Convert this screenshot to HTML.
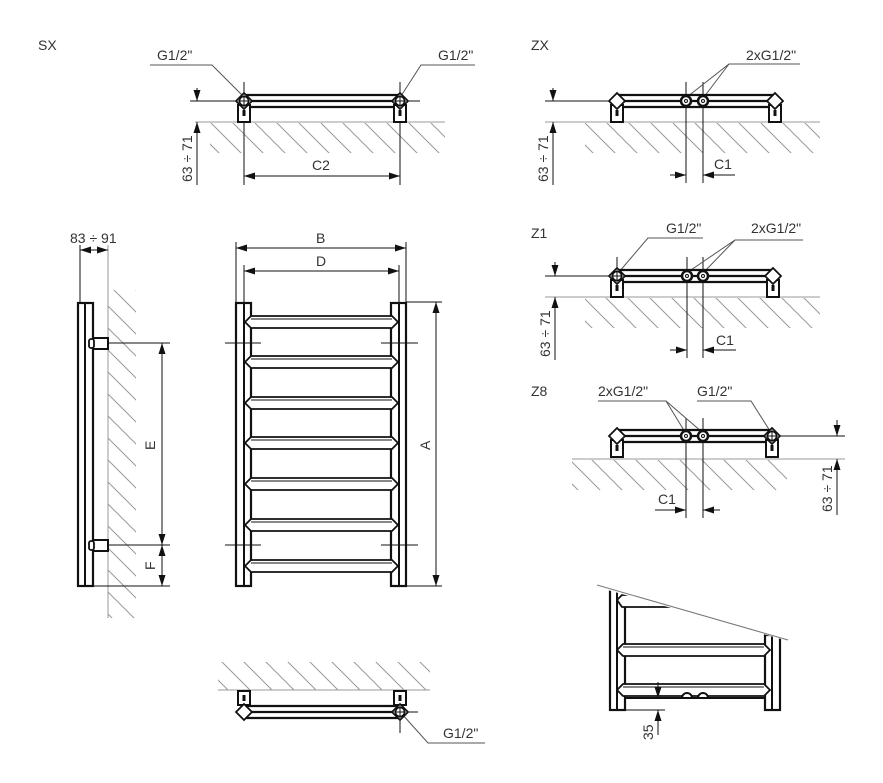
<!DOCTYPE html>
<html><head><meta charset="utf-8"><style>
html,body{margin:0;padding:0;background:#fff}
svg{display:block}
text{font-family:"Liberation Sans","DejaVu Sans",sans-serif;font-size:14px;fill:#333}
</style></head><body>
<svg width="883" height="783" viewBox="0 0 883 783" xmlns="http://www.w3.org/2000/svg">
<defs>
<pattern id="h" patternUnits="userSpaceOnUse" width="22" height="22">
<path d="M-2,-2 L24,24 M-13,9 L2,24 M9,-13 L24,2" stroke="#999" stroke-width="1"/>
</pattern>
<path id="ad" d="M0,0 L-3.5,-11 L3.5,-11 Z" fill="#111"/>
<path id="au" d="M0,0 L-3.5,11 L3.5,11 Z" fill="#111"/>
<path id="al" d="M0,0 L11,-3.5 L11,3.5 Z" fill="#111"/>
<path id="ar" d="M0,0 L-11,-3.5 L-11,3.5 Z" fill="#111"/>
<g id="bar">
<path d="M0,-6 H157 M0,0 H157 M0,6 H157" stroke="#111" stroke-width="2.2" fill="none"/>
</g>
<g id="brk">
<rect x="-6" y="4" width="12" height="17" fill="#fff" stroke="#111" stroke-width="2"/>
<rect x="-1.5" y="9" width="3" height="6" fill="#111"/>
</g>
<g id="fit">
<path d="M-8,0 L0,-8 L8,0 L0,8 Z" fill="#fff" stroke="#111" stroke-width="1.8"/>
<circle r="4.5" fill="none" stroke="#111" stroke-width="1.5"/>
<path d="M-6,0 H6 M0,-6 V6" stroke="#111" stroke-width="1"/>
</g>
<g id="dia">
<path d="M-8,0 L0,-8 L8,0 L0,8 Z" fill="#fff" stroke="#111" stroke-width="1.8"/>
</g>
<g id="cir">
<circle r="5" fill="#fff" stroke="#111" stroke-width="2.5"/>
<circle r="1.5" fill="none" stroke="#111" stroke-width="1"/>
</g>
<g id="rung">
<path d="M0,6 L6,0 H147 L153,6 L147,12 H6 Z" fill="#fff" stroke="#111" stroke-width="1.8"/>
<path d="M6,3 H147" stroke="#111" stroke-width="1"/>
</g>
</defs>

<g stroke="#111" stroke-width="1" fill="none">
<!-- ===== SX ===== -->
<rect x="210" y="123" width="235" height="30" fill="url(#h)" stroke="none"/>
<line x1="195" y1="122" x2="445" y2="122" stroke="#999"/>
<line x1="190" y1="101" x2="420" y2="101"/>
<line x1="244" y1="82" x2="244" y2="185"/>
<line x1="400" y1="82" x2="400" y2="185"/>
<line x1="197" y1="88" x2="197" y2="101"/>
<line x1="197" y1="185" x2="197" y2="122"/>
<line x1="244" y1="176" x2="400" y2="176"/>
<path d="M150,65 H212 L243,96" stroke="#555"/>
<path d="M475,65 H421 L401,96" stroke="#555"/>
</g>
<use href="#ad" x="197" y="101"/><use href="#au" x="197" y="122"/>
<use href="#al" x="244" y="176"/><use href="#ar" x="400" y="176"/>
<use href="#bar" x="244" y="101"/>
<use href="#brk" x="244" y="101"/><use href="#brk" x="400" y="101"/>
<use href="#fit" x="244" y="101"/><use href="#fit" x="400" y="101"/>
<text x="38" y="50" font-size="15">SX</text>
<text x="157" y="60">G1/2"</text>
<text x="438" y="60">G1/2"</text>
<text x="312" y="170">C2</text>
<text transform="translate(192,182) rotate(-90)">63 ÷ 71</text>

<!-- ===== ZX ===== -->
<g stroke="#111" stroke-width="1" fill="none">
<rect x="585" y="123" width="235" height="30" fill="url(#h)" stroke="none"/>
<line x1="545" y1="122" x2="820" y2="122" stroke="#999"/>
<line x1="545" y1="101" x2="617" y2="101"/>
<line x1="686" y1="82" x2="686" y2="183"/>
<line x1="703" y1="82" x2="703" y2="183"/>
<line x1="553" y1="88" x2="553" y2="101"/>
<line x1="553" y1="185" x2="553" y2="122"/>
<line x1="670" y1="175" x2="686" y2="175"/>
<line x1="735" y1="175" x2="703" y2="175"/>
<path d="M800,64 H729 L687,97 M729,64 L704,97" stroke="#555"/>
</g>
<use href="#ad" x="553" y="101"/><use href="#au" x="553" y="122"/>
<use href="#ar" x="686" y="175"/><use href="#al" x="703" y="175"/>
<use href="#bar" x="617" y="101"/>
<use href="#brk" x="617" y="101"/><use href="#brk" x="775" y="101"/>
<use href="#dia" x="617" y="101"/><use href="#dia" x="775" y="101"/>
<use href="#cir" x="686" y="101"/><use href="#cir" x="703" y="101"/>
<text x="531" y="50" font-size="15">ZX</text>
<text x="746" y="60">2xG1/2"</text>
<text x="714" y="169">C1</text>
<text transform="translate(548,182) rotate(-90)">63 ÷ 71</text>

<!-- ===== Z1 ===== -->
<g stroke="#111" stroke-width="1" fill="none">
<rect x="585" y="298" width="235" height="30" fill="url(#h)" stroke="none"/>
<line x1="545" y1="297" x2="820" y2="297" stroke="#999"/>
<line x1="545" y1="276" x2="617" y2="276"/>
<line x1="617" y1="257" x2="617" y2="270"/>
<line x1="687" y1="257" x2="687" y2="358"/>
<line x1="703" y1="257" x2="703" y2="358"/>
<line x1="555" y1="262" x2="555" y2="276"/>
<line x1="555" y1="360" x2="555" y2="297"/>
<line x1="670" y1="350" x2="687" y2="350"/>
<line x1="736" y1="350" x2="703" y2="350"/>
<path d="M703,238 H648 L619,272" stroke="#555"/>
<path d="M803,240 H735 L688,272 M735,240 L704,272" stroke="#555"/>
</g>
<use href="#ad" x="555" y="276"/><use href="#au" x="555" y="297"/>
<use href="#ar" x="687" y="350"/><use href="#al" x="703" y="350"/>
<use href="#bar" x="617" y="276"/>
<use href="#brk" x="617" y="276"/><use href="#brk" x="773" y="276"/>
<use href="#fit" x="617" y="276"/><use href="#dia" x="773" y="276"/>
<use href="#cir" x="687" y="276"/><use href="#cir" x="703" y="276"/>
<text x="531" y="238" font-size="15">Z1</text>
<text x="666" y="233">G1/2"</text>
<text x="751" y="233">2xG1/2"</text>
<text x="716" y="345">C1</text>
<text transform="translate(550,357) rotate(-90)">63 ÷ 71</text>

<!-- ===== Z8 ===== -->
<g stroke="#111" stroke-width="1" fill="none">
<rect x="572" y="460" width="215" height="30" fill="url(#h)" stroke="none"/>
<line x1="572" y1="459" x2="845" y2="459" stroke="#999"/>
<line x1="780" y1="436" x2="845" y2="436"/>
<line x1="686" y1="418" x2="686" y2="518"/>
<line x1="703" y1="418" x2="703" y2="518"/>
<line x1="837" y1="420" x2="837" y2="436"/>
<line x1="837" y1="515" x2="837" y2="459"/>
<line x1="655" y1="510" x2="686" y2="510"/>
<line x1="720" y1="510" x2="703" y2="510"/>
<path d="M598,401 H666 L685,432 M666,401 L702,432" stroke="#555"/>
<path d="M697,401 H751 L770,431" stroke="#555"/>
</g>
<use href="#ad" x="837" y="436"/><use href="#au" x="837" y="459"/>
<use href="#ar" x="686" y="510"/><use href="#al" x="703" y="510"/>
<use href="#bar" x="617" y="436"/>
<use href="#brk" x="617" y="436"/><use href="#brk" x="772" y="436"/>
<use href="#dia" x="617" y="436"/><use href="#fit" x="772" y="436"/>
<use href="#cir" x="686" y="436"/><use href="#cir" x="703" y="436"/>
<text x="531" y="396" font-size="15">Z8</text>
<text x="598" y="396">2xG1/2"</text>
<text x="697" y="396">G1/2"</text>
<text x="658" y="504">C1</text>
<text transform="translate(832,512) rotate(-90)">63 ÷ 71</text>

<!-- ===== Side view ===== -->
<g stroke="#111" stroke-width="1" fill="none">
<rect x="108" y="290" width="28" height="328" fill="url(#h)" stroke="none"/>
<line x1="108" y1="245" x2="108" y2="618" stroke="#999"/>
<line x1="80" y1="245" x2="80" y2="302"/>
<line x1="80" y1="250" x2="108" y2="250"/>
<rect x="78" y="303" width="15" height="283" stroke-width="2.2" fill="#fff"/>
<line x1="85" y1="303" x2="85" y2="586" stroke-width="2"/>
<rect x="93" y="338" width="15" height="11" stroke-width="2" fill="#fff"/>
<rect x="89" y="339" width="5" height="9" rx="2" stroke-width="1.8" fill="#fff"/>
<rect x="93" y="540" width="15" height="11" stroke-width="2" fill="#fff"/>
<rect x="89" y="541" width="5" height="9" rx="2" stroke-width="1.8" fill="#fff"/>
<line x1="108" y1="343" x2="170" y2="343"/>
<line x1="108" y1="545" x2="170" y2="545"/>
<line x1="93" y1="586" x2="170" y2="586"/>
<line x1="162" y1="343" x2="162" y2="586"/>
</g>
<use href="#al" x="80" y="250"/><use href="#ar" x="108" y="250"/>
<use href="#au" x="162" y="343"/><use href="#ad" x="162" y="545"/>
<use href="#au" x="162" y="545"/><use href="#ad" x="162" y="586"/>
<text x="70" y="243">83 ÷ 91</text>
<text transform="translate(155,450) rotate(-90)" font-size="12">E</text>
<text transform="translate(155,570) rotate(-90)" font-size="12">F</text>

<!-- ===== Front view ===== -->
<g stroke="#111" stroke-width="1" fill="none">
<line x1="236" y1="242" x2="236" y2="302"/>
<line x1="406" y1="242" x2="406" y2="302"/>
<line x1="244" y1="265" x2="244" y2="302"/>
<line x1="399" y1="265" x2="399" y2="302"/>
<line x1="236" y1="248" x2="406" y2="248"/>
<line x1="244" y1="271" x2="399" y2="271"/>
<line x1="406" y1="302" x2="442" y2="302"/>
<line x1="406" y1="586" x2="442" y2="586"/>
<line x1="436" y1="302" x2="436" y2="586"/>
</g>
<use href="#al" x="236" y="248"/><use href="#ar" x="406" y="248"/>
<use href="#al" x="244" y="271"/><use href="#ar" x="399" y="271"/>
<use href="#au" x="436" y="302"/><use href="#ad" x="436" y="586"/>
<g stroke="#111" fill="#fff">
<rect x="236" y="303" width="15" height="283" stroke-width="2.2"/>
<line x1="244" y1="303" x2="244" y2="586" stroke-width="2"/>
<rect x="391" y="303" width="15" height="283" stroke-width="2.2"/>
<line x1="399" y1="303" x2="399" y2="586" stroke-width="2"/>
</g>
<use href="#rung" x="245" y="316"/>
<use href="#rung" x="245" y="356"/>
<use href="#rung" x="245" y="397"/>
<use href="#rung" x="245" y="437"/>
<use href="#rung" x="245" y="478"/>
<use href="#rung" x="245" y="519"/>
<use href="#rung" x="245" y="560"/>
<g stroke="#111" stroke-width="1">
<line x1="225" y1="343" x2="261" y2="343"/><line x1="381" y1="343" x2="418" y2="343"/>
<line x1="225" y1="545" x2="261" y2="545"/><line x1="381" y1="545" x2="418" y2="545"/>
</g>
<text x="316" y="243">B</text>
<text x="316" y="266">D</text>
<text transform="translate(430,450) rotate(-90)">A</text>

<!-- ===== Bottom view ===== -->
<g stroke="#111" stroke-width="1" fill="none">
<rect x="218" y="662" width="212" height="28" fill="url(#h)" stroke="none"/>
<line x1="218" y1="690" x2="430" y2="690" stroke="#999"/>
<line x1="400" y1="712" x2="418" y2="712"/>
<line x1="400" y1="712" x2="400" y2="733"/>
<path d="M402,714 L428,743 H485" stroke="#555"/>
</g>
<g stroke="#111" stroke-width="2" fill="#fff">
<rect x="238" y="691" width="12" height="14"/><rect x="394" y="691" width="12" height="14"/>
</g>
<rect x="242.5" y="695" width="3" height="6" fill="#111"/><rect x="398.5" y="695" width="3" height="6" fill="#111"/>
<use href="#bar" x="244" y="712"/>
<use href="#dia" x="244" y="712"/><use href="#fit" x="400" y="712"/>
<text x="443" y="738">G1/2"</text>

<!-- ===== Bottom-right detail ===== -->
<g stroke="#111" fill="#fff">
<rect x="610" y="588" width="15" height="122" stroke-width="2.2"/>
<line x1="617" y1="588" x2="617" y2="710" stroke-width="2"/>
<rect x="765" y="635" width="15" height="75" stroke-width="2.2"/>
<line x1="772" y1="635" x2="772" y2="710" stroke-width="2"/>
<path d="M617,600 L622,595 H700 L700,607 H622 Z" stroke-width="1.8"/>
<use href="#rung" x="617" y="644"/>
<use href="#rung" x="617" y="684"/>
<line x1="625" y1="698" x2="765" y2="698" stroke-width="2"/>
<path d="M682,698 A5,5 0 0 1 692,698 Z M698,698 A5,5 0 0 1 708,698 Z" stroke-width="2"/>
</g>
<polygon points="597,580 597,587 788,641 790,580" fill="#fff"/>
<line x1="597" y1="585" x2="788" y2="640" stroke="#777" stroke-width="1"/>
<g stroke="#111" stroke-width="1" fill="none">
<line x1="652" y1="698" x2="710" y2="698"/>
<line x1="625" y1="710" x2="665" y2="710"/>
<line x1="658" y1="682" x2="658" y2="698"/>
<line x1="658" y1="735" x2="658" y2="710"/>
</g>
<use href="#ad" x="658" y="698"/><use href="#au" x="658" y="710"/>
<text transform="translate(653,740) rotate(-90)">35</text>
</svg>
</body></html>
